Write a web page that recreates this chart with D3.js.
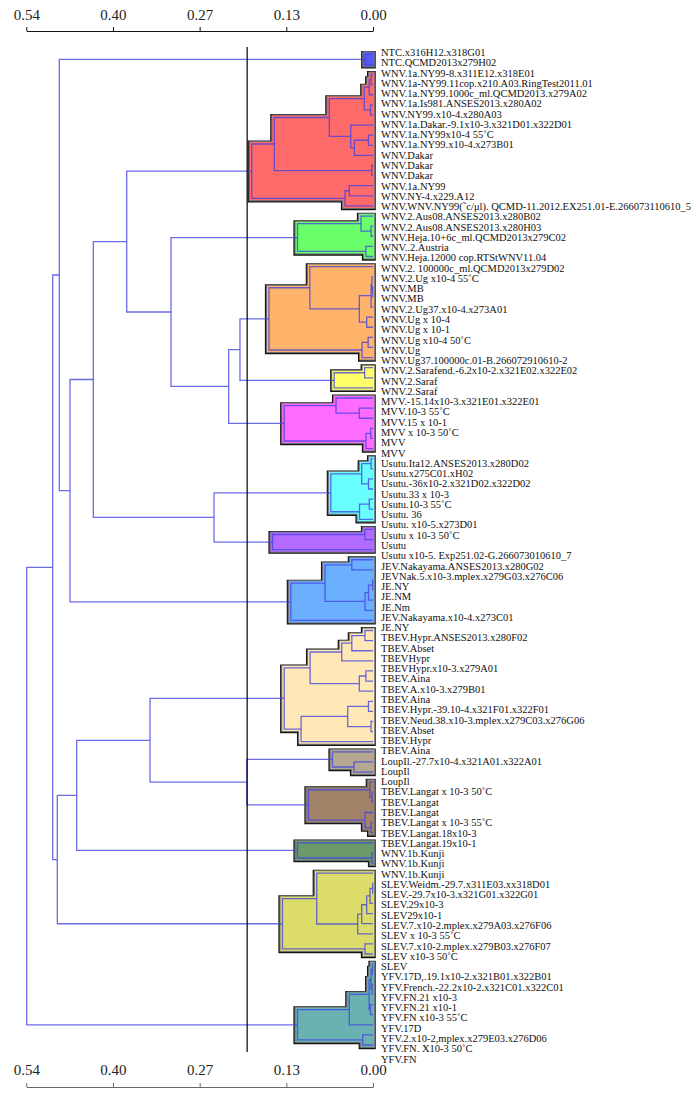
<!DOCTYPE html>
<html><head><meta charset="utf-8">
<script src="https://cdn.jsdelivr.net/npm/d3@7"></script>
<style>body{margin:0;background:#fff}</style>
</head><body><svg id="c" width="694" height="1099"></svg>
<script>
// ---------- DATA ----------
const leafLabels = [
"NTC.x316H12.x318G01","NTC.QCMD2013x279H02",
"WNV.1a.NY99-8.x311E12.x318E01","WNV.1a-NY99.11cop.x210.A03.RingTest2011.01","WNV.1a.NY99.1000c_ml.QCMD2013.x279A02","WNV.1a.Is981.ANSES2013.x280A02","WNV.NY99.x10-4.x280A03","WNV.1a.Dakar.-9.1x10-3.x321D01.x322D01","WNV.1a.NY99x10-4 55˚C","WNV.1a.NY99.x10-4.x273B01","WNV.Dakar","WNV.Dakar","WNV.Dakar","WNV.1a.NY99","WNV.NY-4.x229.A12","WNV.WNV.NY99(˜c/μl). QCMD-11.2012.EX251.01-E.266073110610_5",
"WNV.2.Aus08.ANSES2013.x280B02","WNV.2.Aus08.ANSES2013.x280H03","WNV.Heja.10+6c_ml.QCMD2013x279C02","WNV..2.Austria","WNV.Heja.12000 cop.RTStWNV11.04",
"WNV.2. 100000c_ml.QCMD2013x279D02","WNV.2.Ug x10-4 55˚C","WNV.MB","WNV.MB","WNV.2.Ug37.x10-4.x273A01","WNV.Ug x 10-4","WNV.Ug x 10-1","WNV.Ug x10-4 50˚C","WNV.Ug","WNV.Ug37.100000c.01-B.266072910610-2",
"WNV.2.Sarafend.-6.2x10-2.x321E02.x322E02","WNV.2.Saraf","WNV.2.Saraf",
"MVV.-15.14x10-3.x321E01.x322E01","MVV.10-3 55˚C","MVV.15 x 10-1","MVV x 10-3 50˚C","MVV","MVV",
"Usutu.Ita12.ANSES2013.x280D02","Usutu.x275C01.xH02","Usutu.-36x10-2.x321D02.x322D02","Usutu.33 x 10-3","Usutu.10-3 55˚C","Usutu. 36","Usutu. x10-5.x273D01",
"Usutu x 10-3 50˚C","Usutu","Usutu x10-5. Exp251.02-G.266073010610_7",
"JEV.Nakayama.ANSES2013.x280G02","JEVNak.5.x10-3.mplex.x279G03.x276C06","JE.NY","JE.NM","JE.Nm","JEV.Nakayama.x10-4.x273C01","JE.NY",
"TBEV.Hypr.ANSES2013.x280F02","TBEV.Abset","TBEVHypr","TBEVHypr.x10-3.x279A01","TBEV.Aina","TBEV.A.x10-3.x279B01","TBEV.Aina","TBEV.Hypr.-39.10-4.x321F01.x322F01","TBEV.Neud.38.x10-3.mplex.x279C03.x276G06","TBEV.Abset","TBEV.Hypr","TBEV.Aina",
"LoupIl.-27.7x10-4.x321A01.x322A01","LoupIl","LoupIl",
"TBEV.Langat x 10-3 50˚C","TBEV.Langat","TBEV.Langat","TBEV.Langat x 10-3 55˚C","TBEV.Langat.18x10-3","TBEV.Langat.19x10-1",
"WNV.1b.Kunji","WNV.1b.Kunji","WNV.1b.Kunji",
"SLEV.Weidm.-29.7.x311E03.xx318D01","SLEV.-29.7x10-3.x321G01.x322G01","SLEV.29x10-3","SLEV29x10-1","SLEV.7.x10-2.mplex.x279A03.x276F06","SLEV x 10-3 55˚C","SLEV.7.x10-2.mplex.x279B03.x276F07","SLEV x10-3 50˚C","SLEV",
"YFV.17D,.19.1x10-2.x321B01.x322B01","YFV.French.-22.2x10-2.x321C01.x322C01","YFV.FN.21 x10-3","YFV.FN.21 x10-1","YFV.FN x10-3 55˚C","YFV.17D","YFV.2.x10-2,mplex.x279E03.x276D06","YFV.FN. X10-3 50˚C","YFV.FN"
];

// each cluster subtree: [height, left, right]; numbers are leaf indices
const clusterTrees = [
  [0.0121, 0, 1],
  [0.1889, [0.1537, [0.068, [0.0136, [0.006, [0.003, 2, 3], 4], [0.004, 5, 6]], [0.0347, 7, [0.029, [0.007, 8, 9], 10]]], [0.002, 11, 12]], [0.0436, [0.0369, 13, 14], 15]],
  [0.1176, [0.0187, 16, [0.003, 17, 18]], [0.011, 19, 20]],
  [0.162, [0.0984, 21, [0.0213, [0.003, [0.0016, 22, [0.0006, 23, 24]], 25], [0.0098, 26, 27]]], [0.017, [0.0075, 28, 29], 30]],
  [0.0604, [0.013, 31, 32], 33],
  [0.1383, [0.0576, 34, [0.0213, 35, 36]], [0.011, [0.0036, 37, 38], 39]],
  [0.0657, [0.0176, [0.003, 40, 41], [0.007, 42, 43]], [0.021, [0.0058, 44, 45], 46]],
  [0.1565, [0.0125, 47, 48], 49],
  [0.128, [0.0747, [0.033, 50, 51], [0.0125, [0.007, [0.0005, 52, 53], 54], 55]], 56],
  [0.1383, [0.098, [0.0487, [0.033, [0.0125, 57, 58], 59], 60], [0.0213, [0.011, 61, 62], 63]], [0.112, [0.0394, [0.007, 64, 65], [0.003, 66, 67]], 68]],
  [0.0631, 69, [0.0296, 70, 71]],
  [0.1005, [0.005, 72, [0.0015, 73, 74]], [0.0125, 75, [0.003, 76, 77]]],
  [0.1176, 78, [0.0016, 79, 80]],
  [0.141, [0.0876, 81, [0.0238, [0.0176, [0.0098, [0.0047, [0.0005, 82, 83], 84], 85], 86], 87]], [0.0125, 88, 89]],
  [0.1176, [0.0369, [0.006, [0.003, [0.0008, 90, 91], [0.0015, 92, 93]], [0.004, 94, 95]], 96], [0.016, 97, 98]]
];

// upper part of the tree joining the clusters ({c:k} = cluster k)
const topTree = [0.5394,
  [0.4989,
    [0.4886, {c:0},
      [0.4719,
        [0.4356,
          [0.3836, {c:1}, [0.3146, {c:2}, [0.2248, [0.2072, {c:3}, {c:4}], {c:5}]]],
          [0.2476, {c:6}, {c:7}]],
        {c:8}]],
    [0.4917, [0.4615, [0.3473, {c:9}, [0.1967, {c:10}, {c:11}]], {c:12}], {c:13}]],
  {c:14}];

const clusterColors = ["#5a5af2","#ff6a6a","#6aff6a","#ffb26a","#ffff6a","#ff6aff","#6affff","#b26aff","#6ab0ff","#ffe8b6","#b4a890","#a1836a","#6a9a6a","#dcdc6a","#6ab2b2"];

const tickValues = [0.54, 0.405, 0.27, 0.135, 0];
const tickLabels = ["0.54", "0.40", "0.27", "0.13", "0.00"];
const cutHeight = 0.196;

// ---------- DRAW ----------
const svg = d3.select("#c");
const x = d3.scaleLinear().domain([0.54, 0]).range([26.3, 373]);
const yLeaf = d3.scaleLinear().domain([0, leafLabels.length - 1]).range([54.3, 1045]);
const yLabel = d3.scaleLinear().domain([0, leafLabels.length - 1]).range([52.5, 1059]);

function build(a, cl) {
  if (typeof a === "number") return {leaf: a, h: 0, cluster: cl};
  if (a.c !== undefined) { const n = build(clusterTrees[a.c], a.c); n.isClusterRoot = true; return n; }
  return {h: a[0], cluster: cl, children: [build(a[1], cl), build(a[2], cl)]};
}
const root = d3.hierarchy(build(topTree, null));
root.eachAfter(n => {
  n.px = x(n.data.h);
  if (!n.children) n.py = yLeaf(n.data.leaf);
  else n.py = (n.children[0].py + n.children[n.children.length - 1].py) / 2;
});

// cluster hulls
const pad = 2.5, right = x(0) + 1.8;
const hullG = svg.append("g");
root.descendants().filter(n => n.data.isClusterRoot).forEach(cr => {
  const rects = cr.descendants().filter(d => d.children).map(d => ({
    l: d.px - pad,
    t: d3.min(d.children, c => c.py) - pad,
    b: d3.max(d.children, c => c.py) + pad
  }));
  const ys = Array.from(new Set(rects.flatMap(r => [r.t, r.b]))).sort((a, b) => a - b);
  let p = `M${right},${ys[0]}`;
  for (let i = 0; i < ys.length - 1; i++) {
    const m = (ys[i] + ys[i + 1]) / 2;
    const L = d3.min(rects.filter(r => r.t <= m && r.b >= m), r => r.l);
    p += `L${L},${ys[i]}L${L},${ys[i + 1]}`;
  }
  p += `L${right},${ys[ys.length - 1]}Z`;
  hullG.append("path").attr("d", p).attr("fill", "none").attr("stroke", "#151515").attr("stroke-width", 2.6)
    .attr("transform", "translate(-0.3,0.4)");
  hullG.append("path").attr("d", p).attr("fill", clusterColors[cr.data.cluster])
    .attr("stroke", "#6e6e6e").attr("stroke-width", 1);
});

// links
svg.append("g").selectAll("path").data(root.descendants().filter(n => n.parent)).join("path")
  .attr("d", n => `M${n.px},${n.py}H${n.parent.px}V${n.parent.py}`)
  .attr("fill", "none").attr("stroke", "#4343e2").attr("stroke-opacity", 0.78).attr("stroke-width", 1.3);

// cut line
svg.append("line").attr("x1", x(cutHeight)).attr("x2", x(cutHeight)).attr("y1", 47).attr("y2", 1052)
  .attr("stroke", "#000").attr("stroke-width", 1.2);

// labels
svg.append("g").selectAll("text").data(leafLabels).join("text")
  .attr("x", 381).attr("y", (d, i) => yLabel(i)).attr("dominant-baseline", "central")
  .attr("font-family", "Liberation Serif, serif").attr("font-size", 10.5).attr("fill", "#111")
  .text(d => d);

// axes
function drawAxis(yPos, pad, col) {
  const g = svg.append("g").attr("transform", `translate(0,${yPos})`)
    .call(d3.axisTop(x).tickValues(tickValues).tickFormat((d, i) => tickLabels[i])
      .tickSizeInner(4).tickSizeOuter(0).tickPadding(pad));
  g.attr("font-family", "Liberation Serif, serif").attr("font-size", 15);
  g.selectAll("text").attr("fill", "#222");
  g.select(".domain").attr("stroke", col).attr("stroke-width", 1.2);
  g.selectAll(".tick line").attr("stroke", col);
}
drawAxis(31, 7, "#111");
drawAxis(1087, 8, "#666");
</script>
</body></html>
